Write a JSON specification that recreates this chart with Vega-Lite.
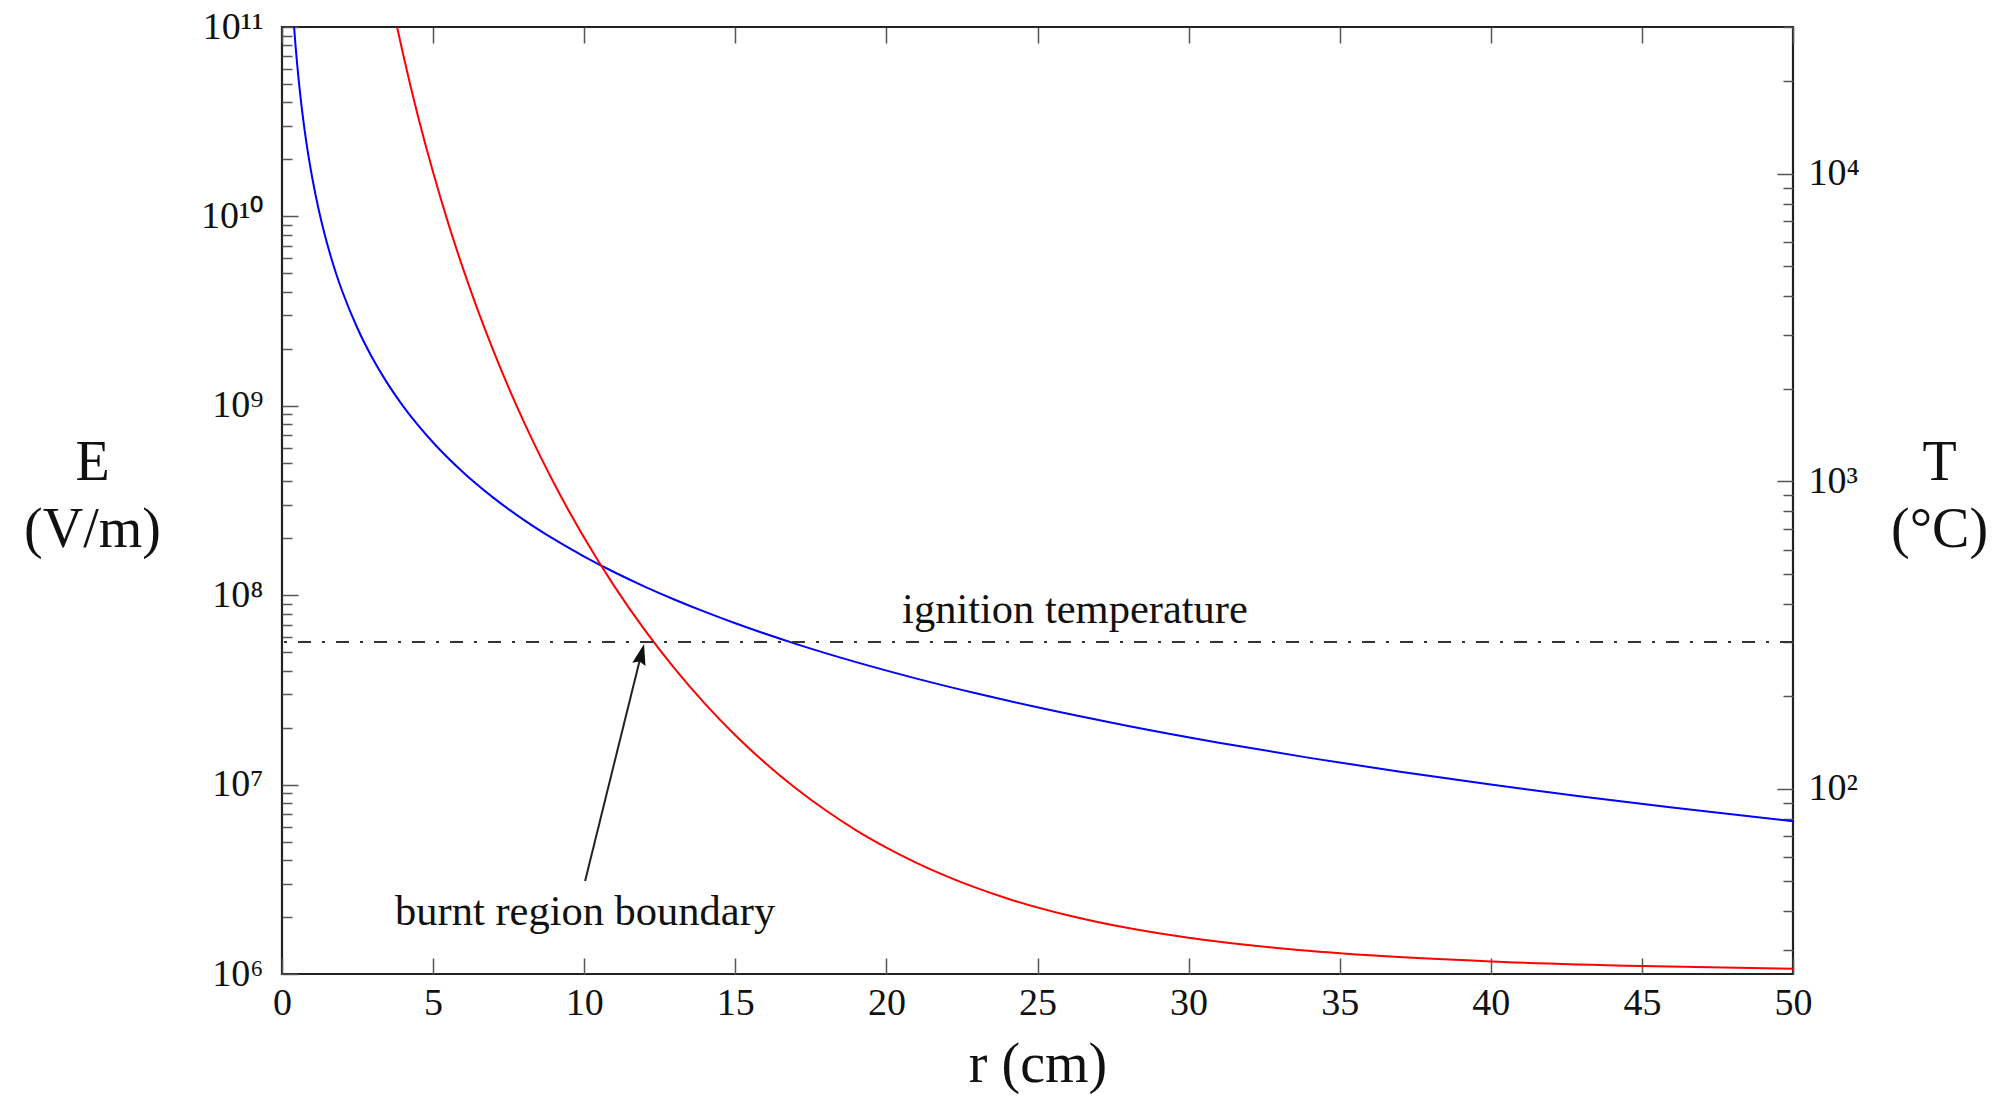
{
  "$schema": "https://vega.github.io/schema/vega-lite/v6.json",
  "width": 1511,
  "height": 947,
  "autosize": {"type": "none"},
  "padding": {"left": 282, "top": 27, "right": 207, "bottom": 128},
  "background": "white",
  "config": {
    "view": {"stroke": "#222", "strokeWidth": 2.2},
    "font": "Liberation Serif",
    "axis": {"domain": false, "grid": false, "labelFont": "Liberation Serif", "titleFont": "Liberation Serif", "labelColor": "#111", "titleColor": "#111", "titleFontWeight": "normal", "tickColor": "#555", "tickWidth": 1.5, "labelOverlap": false, "labelFlush": false}
  },
  "datasets": {
    "efield": [
      {"r": 0.4, "E": 1e11}, {"r": 0.45, "E": 7.901e10}, {"r": 0.5, "E": 6.4e10}, {"r": 0.6, "E": 4.444e10},
      {"r": 0.7, "E": 3.265e10}, {"r": 0.8, "E": 2.5e10}, {"r": 0.9, "E": 1.975e10}, {"r": 1.0, "E": 1.6e10},
      {"r": 1.2, "E": 1.111e10}, {"r": 1.4, "E": 8.163e9}, {"r": 1.6, "E": 6.25e9}, {"r": 1.8, "E": 4.938e9},
      {"r": 2, "E": 4e9}, {"r": 2.5, "E": 2.56e9}, {"r": 3, "E": 1.778e9}, {"r": 3.5, "E": 1.306e9},
      {"r": 4, "E": 1e9}, {"r": 4.5, "E": 7.901e8}, {"r": 5, "E": 6.4e8}, {"r": 6, "E": 4.444e8},
      {"r": 7, "E": 3.265e8}, {"r": 8, "E": 2.5e8}, {"r": 9, "E": 1.975e8}, {"r": 10, "E": 1.6e8},
      {"r": 11, "E": 1.322e8}, {"r": 12, "E": 1.111e8}, {"r": 13, "E": 9.467e7}, {"r": 14, "E": 8.163e7},
      {"r": 15, "E": 7.111e7}, {"r": 17, "E": 5.536e7}, {"r": 19, "E": 4.432e7}, {"r": 21, "E": 3.628e7},
      {"r": 23, "E": 3.025e7}, {"r": 25, "E": 2.56e7}, {"r": 28, "E": 2.041e7}, {"r": 31, "E": 1.665e7},
      {"r": 34, "E": 1.384e7}, {"r": 37, "E": 1.169e7}, {"r": 40, "E": 1e7}, {"r": 43, "E": 8.653e6},
      {"r": 46, "E": 7.561e6}, {"r": 50, "E": 6.4e6}
    ],
    "temp": [
      {"r": 3.81, "T": 29925}, {"r": 4, "T": 24634}, {"r": 4.25, "T": 19335}, {"r": 4.5, "T": 15388},
      {"r": 4.75, "T": 12401}, {"r": 5, "T": 10105}, {"r": 5.5, "T": 6910}, {"r": 6, "T": 4886},
      {"r": 6.5, "T": 3554}, {"r": 7, "T": 2649}, {"r": 7.5, "T": 2016}, {"r": 8, "T": 1563},
      {"r": 8.5, "T": 1232}, {"r": 9, "T": 985.2}, {"r": 9.5, "T": 798.5}, {"r": 10, "T": 655},
      {"r": 11, "T": 455.3}, {"r": 12, "T": 328.8}, {"r": 13, "T": 245.6}, {"r": 14, "T": 189},
      {"r": 15, "T": 149.4}, {"r": 16, "T": 121.1}, {"r": 17, "T": 100.4}, {"r": 18, "T": 85.0},
      {"r": 19, "T": 73.3}, {"r": 20, "T": 64.4}, {"r": 22, "T": 51.9}, {"r": 24, "T": 44.0},
      {"r": 26, "T": 38.8}, {"r": 28, "T": 35.25}, {"r": 30, "T": 32.78}, {"r": 33, "T": 30.31},
      {"r": 36, "T": 28.75}, {"r": 40, "T": 27.46}, {"r": 45, "T": 26.54}, {"r": 50, "T": 26.01}
    ],
    "ignition": [{"T": 300}],
    "arrowline": [{"r": 10.03, "T": 50.2}, {"r": 11.85, "T": 265}],
    "arrowhead": [{"r": 11.98, "T": 296}],
    "labels": [
      {"r": 26.24, "T": 381, "label": "ignition temperature"},
      {"r": 10.03, "T": 39.8, "label": "burnt region boundary"}
    ]
  },
  "resolve": {"scale": {"y": "independent"}, "axis": {"x": "independent", "y": "independent"}},
  "layer": [
    {
      "data": {"name": "efield"},
      "mark": {"type": "line", "color": "#0000ff", "strokeWidth": 2, "interpolate": "monotone", "clip": true},
      "encoding": {
        "x": {
          "field": "r", "type": "quantitative",
          "scale": {"domain": [0, 50], "nice": false, "zero": false},
          "axis": {
            "orient": "bottom",
            "values": [0, 5, 10, 15, 20, 25, 30, 35, 40, 45, 50],
            "tickSize": -16,
            "labelPadding": 26,
            "labelFontSize": 38,
            "title": "r  (cm)",
            "titleFontSize": 56,
            "titleBaseline": "middle",
            "titleY": 90
          }
        },
        "y": {
          "field": "E", "type": "quantitative",
          "scale": {"type": "log", "domain": [1000000, 100000000000], "nice": false},
          "axis": {
            "orient": "left",
            "values": [1000000, 2000000, 3000000, 4000000, 5000000, 6000000, 7000000, 8000000, 9000000,
                       10000000, 20000000, 30000000, 40000000, 50000000, 60000000, 70000000, 80000000, 90000000,
                       100000000, 200000000, 300000000, 400000000, 500000000, 600000000, 700000000, 800000000, 900000000,
                       1000000000, 2000000000, 3000000000, 4000000000, 5000000000, 6000000000, 7000000000, 8000000000, 9000000000,
                       10000000000, 20000000000, 30000000000, 40000000000, 50000000000, 60000000000, 70000000000, 80000000000, 90000000000,
                       100000000000],
            "labelExpr": "datum.value == 1000000 ? '10⁶' : datum.value == 10000000 ? '10⁷' : datum.value == 100000000 ? '10⁸' : datum.value == 1000000000 ? '10⁹' : datum.value == 10000000000 ? '10¹⁰' : datum.value == 100000000000 ? '10¹¹' : ''",
            "tickSize": {"condition": {"test": "abs(log(datum.value)/LN10 - round(log(datum.value)/LN10)) < 0.001", "value": -16}, "value": -10},
            "labelPadding": 35,
            "labelFontSize": 38,
            "labelBaseline": "middle",
            "title": ["E", "(V/m)"],
            "titleAngle": 0,
            "titleX": -190,
            "titleY": 435,
            "titleAlign": "center",
            "titleBaseline": "middle",
            "titleFontSize": 56,
            "titleLineHeight": 67
          }
        }
      }
    },
    {
      "data": {"name": "temp"},
      "mark": {"type": "line", "color": "#ff0000", "strokeWidth": 2, "interpolate": "monotone", "clip": true},
      "encoding": {
        "x": {
          "field": "r", "type": "quantitative",
          "scale": {"domain": [0, 50], "nice": false, "zero": false},
          "axis": {"orient": "top", "values": [0, 5, 10, 15, 20, 25, 30, 35, 40, 45, 50], "tickSize": -16, "labels": false, "title": null}
        },
        "y": {
          "field": "T", "type": "quantitative",
          "scale": {"type": "log", "domain": [25, 30000], "nice": false},
          "axis": {
            "orient": "right",
            "values": [30, 40, 50, 60, 70, 80, 90, 100, 200, 300, 400, 500, 600, 700, 800, 900,
                       1000, 2000, 3000, 4000, 5000, 6000, 7000, 8000, 9000, 10000, 20000, 30000],
            "labelExpr": "datum.value == 100 ? '10²' : datum.value == 1000 ? '10³' : datum.value == 10000 ? '10⁴' : ''",
            "tickSize": {"condition": {"test": "abs(log(datum.value)/LN10 - round(log(datum.value)/LN10)) < 0.001", "value": -16}, "value": -10},
            "labelPadding": 31,
            "labelFontSize": 38,
            "labelBaseline": "middle",
            "title": ["T", "(°C)"],
            "titleAngle": 0,
            "titleX": 146,
            "titleY": 435,
            "titleAlign": "center",
            "titleBaseline": "middle",
            "titleFontSize": 56,
            "titleLineHeight": 67
          }
        }
      }
    },
    {
      "data": {"name": "ignition"},
      "mark": {"type": "rule", "color": "#333", "strokeWidth": 2, "strokeDash": [13, 11, 3, 11]},
      "encoding": {
        "y": {"field": "T", "type": "quantitative", "scale": {"type": "log", "domain": [25, 30000], "nice": false}, "axis": null}
      }
    },
    {
      "data": {"name": "arrowline"},
      "mark": {"type": "line", "color": "#222", "strokeWidth": 2},
      "encoding": {
        "x": {"field": "r", "type": "quantitative", "axis": null},
        "y": {"field": "T", "type": "quantitative", "scale": {"type": "log", "domain": [25, 30000], "nice": false}, "axis": null}
      }
    },
    {
      "data": {"name": "arrowhead"},
      "mark": {"type": "point", "shape": "M0,0L0.32,1L0,0.85L-0.32,1Z", "filled": true, "color": "#111", "opacity": 1, "size": 1800, "angle": 14},
      "encoding": {
        "x": {"field": "r", "type": "quantitative", "axis": null},
        "y": {"field": "T", "type": "quantitative", "scale": {"type": "log", "domain": [25, 30000], "nice": false}, "axis": null}
      }
    },
    {
      "data": {"name": "labels"},
      "mark": {"type": "text", "font": "Liberation Serif", "fontSize": 42.5, "color": "#111", "align": "center", "baseline": "middle"},
      "encoding": {
        "x": {"field": "r", "type": "quantitative", "axis": null},
        "y": {"field": "T", "type": "quantitative", "scale": {"type": "log", "domain": [25, 30000], "nice": false}, "axis": null},
        "text": {"field": "label"}
      }
    }
  ]
}
